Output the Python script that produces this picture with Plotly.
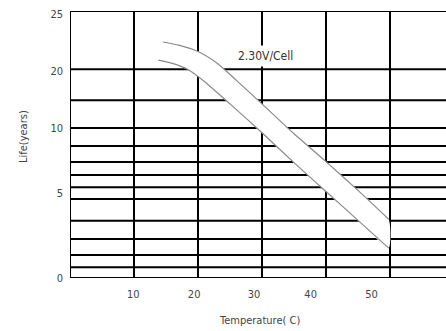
import plotly.graph_objects as go

# ---- data (axis units of the chart) ----
TEMP_TICKS = [9.9, 19.4, 28.75, 37.6, 47.1]
TEMP_TICK_TEXT = ["10", "20", "30", "40", "50"]
LIFE_TICKS = [0, 7.9, 14.0, 19.4, 24.7]
LIFE_TICK_TEXT = ["0", "5", "10", "20", "25"]
GRID_X = [10, 20, 30, 40, 50]
GRID_Y = [0, 1.0, 2.15, 3.65, 5.35, 7.4, 8.5, 9.65, 10.85, 12.35, 14.05, 16.65, 19.55, 25]

UPPER_T = [14.5, 17, 20, 23, 26, 30, 35, 40, 45, 49.8]
UPPER_L = [22.1, 21.8, 21.2, 20.1, 18.5, 16.3, 13.5, 10.9, 8.2, 5.5]
LOWER_T = [13.8, 16, 18.5, 21, 25, 30, 35, 40, 45, 49.8]
LOWER_L = [20.4, 20.1, 19.5, 18.4, 16.3, 13.6, 10.8, 8.1, 5.4, 2.8]

LABEL = "2.30V/Cell"
LABEL_POS = (30.5, 20.75)

FONT = "DejaVu Sans Condensed, DejaVu Sans, sans-serif"

fig = go.Figure()

# white band between the two curves
fig.add_trace(go.Scatter(
    x=UPPER_T + LOWER_T[::-1], y=UPPER_L + LOWER_L[::-1],
    mode="lines", fill="toself", fillcolor="white",
    line=dict(width=0, shape="spline", smoothing=0.6),
    hoverinfo="skip", showlegend=False))
for xs, ys in ((UPPER_T, UPPER_L), (LOWER_T, LOWER_L)):
    fig.add_trace(go.Scatter(
        x=xs, y=ys, mode="lines",
        line=dict(color="#8a8a8a", width=1.2, shape="spline", smoothing=0.6),
        hoverinfo="skip", showlegend=False))

shapes = []
for gx in GRID_X:
    shapes.append(dict(type="line", xref="x", yref="y", x0=gx, x1=gx, y0=0, y1=25,
                       line=dict(color="black", width=2), layer="below"))
for gy in GRID_Y:
    shapes.append(dict(type="line", xref="paper", yref="y", x0=0, x1=1, y0=gy, y1=gy,
                       line=dict(color="black", width=2), layer="below"))
shapes.append(dict(type="line", xref="x", yref="y", x0=0, x1=0, y0=0, y1=25,
                   line=dict(color="black", width=2), layer="below"))

fig.update_layout(
    width=446, height=331,
    margin=dict(l=70, r=0, t=11, b=53),
    plot_bgcolor="white", paper_bgcolor="white",
    shapes=shapes,
    showlegend=False,
    font=dict(family=FONT, size=11, color="#444"),
    xaxis=dict(range=[0, 58.75], showgrid=False, zeroline=False, showline=False,
               tickmode="array", tickvals=TEMP_TICKS, ticktext=TEMP_TICK_TEXT,
               ticks="", ticklabelstandoff=8, fixedrange=True),
    yaxis=dict(range=[0, 25], showgrid=False, zeroline=False, showline=False,
               tickmode="array", tickvals=LIFE_TICKS, ticktext=LIFE_TICK_TEXT,
               ticks="", ticklabelstandoff=6, fixedrange=True),
    annotations=[
        dict(x=LABEL_POS[0], y=LABEL_POS[1], xref="x", yref="y", text=LABEL,
             showarrow=False, bgcolor="white", borderpad=3,
             font=dict(family=FONT, size=12, color="#333")),
        dict(x=-0.125, y=0.528, xref="paper", yref="paper", text="Life(years)",
             textangle=-90, showarrow=False, xanchor="center", yanchor="middle",
             font=dict(family=FONT, size=11, color="#444")),
        dict(x=0.505, y=-0.16, xref="paper", yref="paper", text="Temperature( C)",
             showarrow=False, xanchor="center", yanchor="middle",
             font=dict(family=FONT, size=11, color="#444")),
    ],
)

fig.write_html(
    "out.html",
    config={"displayModeBar": False},
    post_script="document.body.style.margin='0';document.body.style.overflow='hidden';",
)
